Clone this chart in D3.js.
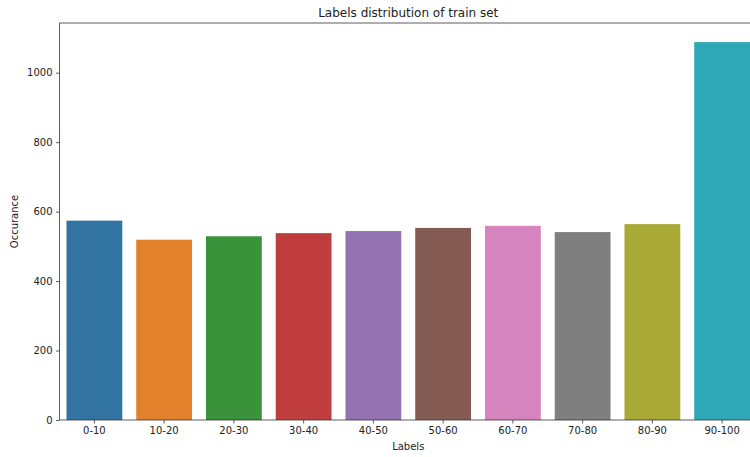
<!DOCTYPE html>
<html lang="en">
<head>
<meta charset="utf-8">
<title>Labels distribution</title>
<style>
  body { margin: 0; background: #fff; }
  text { font-family: "DejaVu Sans", sans-serif; fill: #222; }
</style>
</head>
<body>
<svg id="chart" width="750" height="457"></svg>
<script src="https://d3js.org/d3.v7.min.js"></script>
<script>
  var labels = ["0-10", "10-20", "20-30", "30-40", "40-50", "50-60", "60-70", "70-80", "80-90", "90-100"];
  var counts = [574, 519, 529, 538, 544, 553, 559, 541, 564, 1088];
  var colors = ["#3274a1", "#e1812c", "#3a923a", "#c03d3e", "#9372b2", "#845b53", "#d684bd", "#7f7f7f", "#a9aa35", "#2ea8b6"];
  var yTicks = [0, 200, 400, 600, 800, 1000];

  var svg = d3.select("#chart");

  // axes box (right side runs past the window, like the original crop)
  // note: "top" is taken by window.top, so use other names
  var axL = 59.5, axR = 757, axT = 23, axB = 420;

  var x = d3.scaleBand()
    .domain(labels)
    .range([axL, axR])
    .paddingInner(0.2)
    .paddingOuter(0.1);

  var y = d3.scaleLinear()
    .domain([0, 1143])
    .range([axB, axT]);

  svg.selectAll("rect.bar")
    .data(counts)
    .join("rect")
    .attr("class", "bar")
    .attr("x", (d, i) => x(labels[i]))
    .attr("width", x.bandwidth())
    .attr("y", d => y(d))
    .attr("height", d => y(0) - y(d))
    .attr("fill", (d, i) => colors[i]);

  var xAxis = svg.append("g")
    .attr("transform", "translate(0," + axB + ")")
    .call(d3.axisBottom(x).tickSize(3.5).tickPadding(3.5).tickSizeOuter(0));

  var yAxis = svg.append("g")
    .attr("transform", "translate(" + axL + ",0)")
    .call(d3.axisLeft(y).tickValues(yTicks).tickFormat(d3.format("d"))
      .tickSize(3.5).tickPadding(3.5).tickSizeOuter(0));

  [xAxis, yAxis].forEach(g => {
    g.select(".domain").remove();
    g.selectAll(".tick line").attr("stroke", "#333").attr("stroke-width", 0.8);
    g.selectAll(".tick text").attr("font-size", 10).attr("font-family", "DejaVu Sans").attr("fill", "#222");
  });

  // spines
  var spine = svg.append("g").attr("stroke", "#333").attr("stroke-width", 0.8).attr("fill", "none");
  spine.append("line").attr("x1", axL).attr("x2", axL).attr("y1", axT).attr("y2", axB);
  spine.append("line").attr("x1", axL).attr("x2", axR).attr("y1", axB).attr("y2", axB);
  spine.append("line").attr("x1", axL).attr("x2", axR).attr("y1", axT).attr("y2", axT);
  spine.append("line").attr("x1", axR).attr("x2", axR).attr("y1", axT).attr("y2", axB);

  svg.append("text")
    .attr("x", (axL + axR) / 2)
    .attr("y", 17)
    .attr("text-anchor", "middle")
    .attr("font-size", 12)
    .text("Labels distribution of train set");

  svg.append("text")
    .attr("x", (axL + axR) / 2)
    .attr("y", 450)
    .attr("text-anchor", "middle")
    .attr("font-size", 10)
    .text("Labels");

  svg.append("text")
    .attr("transform", "translate(18," + (axT + axB) / 2 + ") rotate(-90)")
    .attr("text-anchor", "middle")
    .attr("font-size", 10)
    .text("Occurance");
</script>
</body>
</html>
